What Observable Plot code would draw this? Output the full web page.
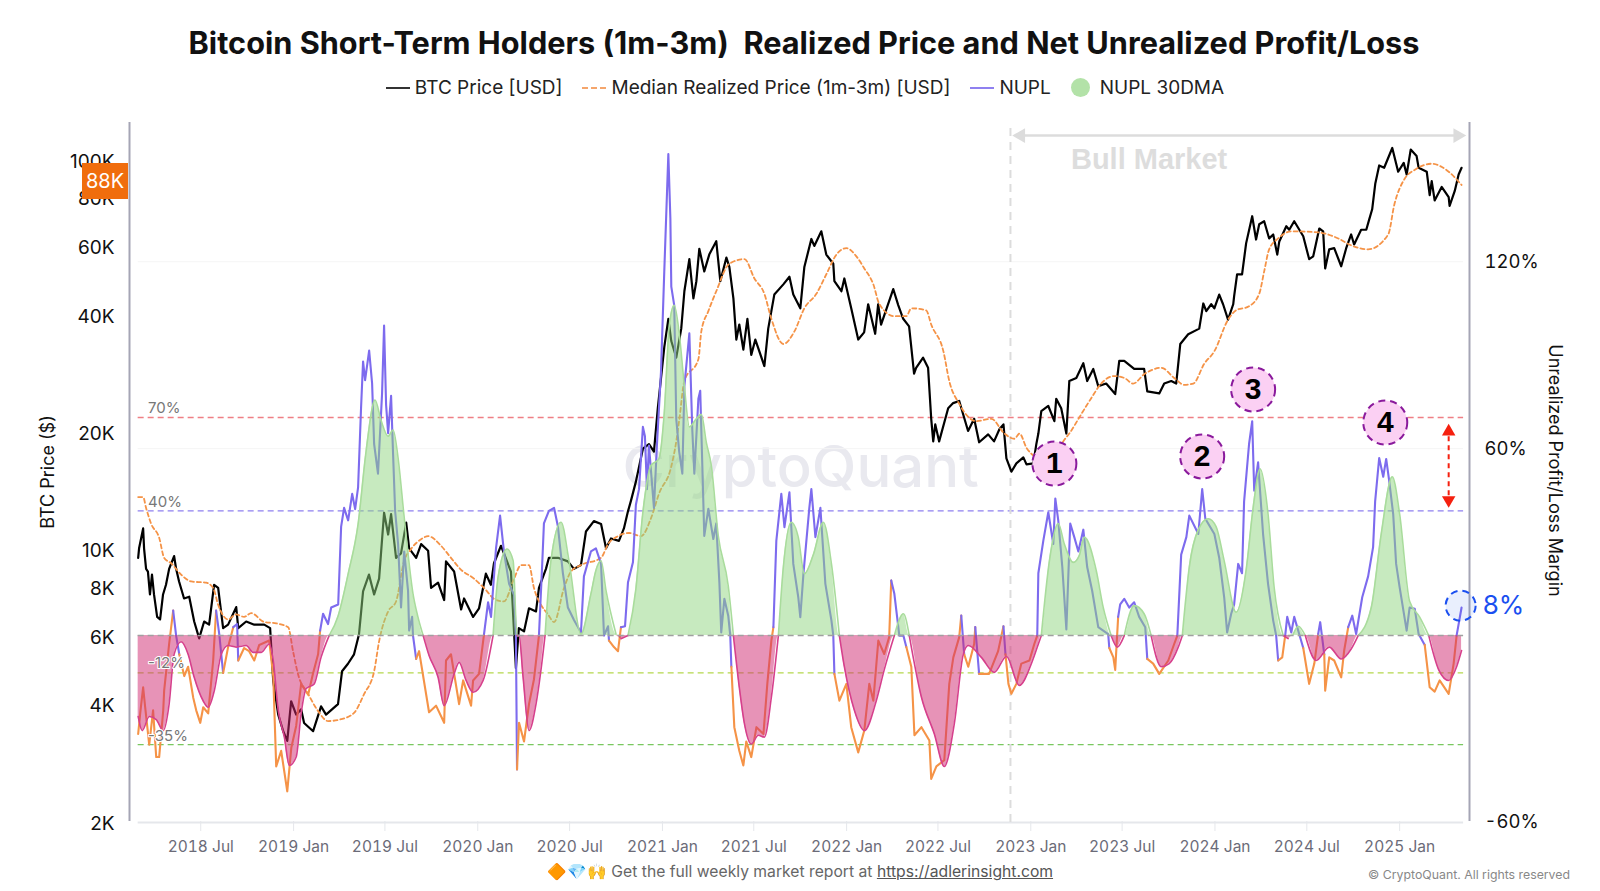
<!DOCTYPE html>
<html>
<head>
<meta charset="utf-8">
<script src="https://cdn.jsdelivr.net/npm/d3@7"></script>
<script src="https://cdn.jsdelivr.net/npm/@observablehq/plot@0.6"></script>
<style>
  html, body { margin: 0; background: #fff; width: 1600px; height: 891px; overflow: hidden; font-family: Inter, sans-serif; }
  #title { position: absolute; top: 24px; left: 0; width: 1608px; text-align: center; font-size: 30.7px; font-weight: 700; color: #111; white-space: pre; }
  #legend { position: absolute; top: 76px; left: 0; width: 1610px; display: flex; justify-content: center; align-items: center; font-size: 19px; color: #222; }
  #legend span.item { display: flex; align-items: center; margin: 0 10px; }
  #legend i { display: inline-block; width: 24px; margin-right: 5px; border-top: 2px solid; }
  #legend i.dot { width: 19px; height: 19px; border: 0; border-radius: 50%; background: #b3e2a8; margin-right: 10px; }
  #chart { position: absolute; top: 112px; left: 0; }
  #tag { position: absolute; left: 82px; top: 163px; width: 46px; height: 36px; line-height: 36px; background: #f06d0d; color: #fff; text-align: center; font-size: 20px; }
  #caption { position: absolute; top: 862px; left: 0; width: 1600px; text-align: center; font-size: 15.7px; color: #666; }
  #caption a { color: #555; }
  #copy { position: absolute; top: 867px; right: 30px; font-size: 12.3px; color: #888; }
</style>
</head>
<body>
<div id="title">Bitcoin Short-Term Holders (1m-3m)  Realized Price and Net Unrealized Profit/Loss</div>
<div id="legend">
  <span class="item"><i style="border-color:#333"></i>BTC Price [USD]</span>
  <span class="item"><i style="border-top:2px dashed #f5a66c"></i>Median Realized Price (1m-3m) [USD]</span>
  <span class="item"><i style="border-color:#8f80f0"></i>NUPL</span>
  <span class="item"><i class="dot"></i>NUPL 30DMA</span>
</div>
<div id="chart"></div>
<div id="tag">88K</div>
<div id="caption">🔶💎🙌 Get the full weekly market report at <a href="https://adlerinsight.com">https://adlerinsight.com</a></div>
<div id="copy">© CryptoQuant. All rights reserved</div>
<script>
// [decimal year, USD thousands]
const btcPrice = [[2018.156,9.5],[2018.161,10.05],[2018.183,11.3],[2018.188,10.05],[2018.199,8.9],[2018.209,8.76],[2018.220,7.65],[2018.231,8.6],[2018.242,7.65],[2018.259,6.7],[2018.275,6.6],[2018.291,7.65],[2018.307,8.1],[2018.324,8.9],[2018.351,9.6],[2018.362,8.9],[2018.378,8.26],[2018.405,7.47],[2018.433,7.55],[2018.460,6.52],[2018.487,5.9],[2018.514,6.52],[2018.541,6.4],[2018.568,8.1],[2018.590,7.95],[2018.617,6.27],[2018.644,6.4],[2018.688,7.1],[2018.699,6.27],[2018.742,6.52],[2018.786,6.4],[2018.840,6.4],[2018.872,6.27],[2018.889,4.58],[2018.916,3.76],[2018.943,3.41],[2018.965,3.22],[2018.986,4.07],[2019.014,3.76],[2019.041,3.88],[2019.057,3.58],[2019.106,3.41],[2019.149,3.95],[2019.176,3.76],[2019.241,4.0],[2019.263,4.86],[2019.295,5.08],[2019.328,5.37],[2019.355,6.05],[2019.377,7.79],[2019.409,8.6],[2019.437,7.65],[2019.464,8.4],[2019.491,12.4],[2019.513,10.9],[2019.529,12.3],[2019.556,9.5],[2019.583,9.75],[2019.611,11.7],[2019.627,10.05],[2019.665,9.5],[2019.692,10.3],[2019.730,9.9],[2019.746,7.95],[2019.784,8.2],[2019.817,7.4],[2019.827,9.3],[2019.871,8.76],[2019.909,7.0],[2019.925,7.47],[2019.974,6.7],[2020.007,7.05],[2020.044,8.65],[2020.071,8.1],[2020.088,9.2],[2020.126,10.2],[2020.142,9.75],[2020.180,8.76],[2020.207,4.95],[2020.223,6.27],[2020.251,6.15],[2020.278,7.05],[2020.316,6.92],[2020.332,7.95],[2020.370,8.9],[2020.386,9.5],[2020.435,9.5],[2020.489,9.3],[2020.522,8.9],[2020.560,9.1],[2020.587,11.1],[2020.630,11.8],[2020.669,11.6],[2020.696,10.05],[2020.723,10.65],[2020.766,10.5],[2020.793,11.3],[2020.815,12.5],[2020.831,13.3],[2020.858,14.9],[2020.896,18.1],[2020.929,18.6],[2020.956,17.8],[2020.977,23],[2021.010,33],[2021.032,39],[2021.048,34.2],[2021.075,31],[2021.102,36.8],[2021.119,45.9],[2021.146,55.5],[2021.168,44],[2021.184,48.7],[2021.200,59],[2021.227,51.6],[2021.254,57],[2021.292,61.7],[2021.314,48.7],[2021.347,56],[2021.363,53],[2021.385,44],[2021.401,34.5],[2021.417,37.7],[2021.439,32.5],[2021.461,39],[2021.482,31.5],[2021.504,34.5],[2021.553,29.5],[2021.574,36.8],[2021.607,45],[2021.656,47.8],[2021.689,50],[2021.710,45],[2021.748,41.5],[2021.770,53],[2021.808,62.5],[2021.824,60],[2021.862,65.4],[2021.889,57],[2021.927,54],[2021.933,48.7],[2021.971,45.9],[2021.987,49.5],[2022.025,41.5],[2022.063,34.5],[2022.095,36],[2022.117,42.5],[2022.155,35.7],[2022.171,42.5],[2022.187,37.7],[2022.253,46.5],[2022.280,42.3],[2022.307,39],[2022.339,37.3],[2022.366,28.2],[2022.377,29.2],[2022.415,31],[2022.442,29.2],[2022.459,21.6],[2022.470,18.9],[2022.481,20.9],[2022.502,18.9],[2022.551,23],[2022.578,23.7],[2022.611,24],[2022.659,20.1],[2022.692,21.6],[2022.719,18.8],[2022.768,19.7],[2022.800,18.9],[2022.829,20.3],[2022.851,20.9],[2022.867,17.1],[2022.894,15.8],[2022.921,16.6],[2022.959,17.2],[2022.976,16.5],[2023.014,16.6],[2023.030,18.6],[2023.041,19.8],[2023.057,22.6],[2023.095,23.3],[2023.128,21.3],[2023.138,24.3],[2023.165,23],[2023.193,19.8],[2023.209,27],[2023.247,27.5],[2023.285,30],[2023.306,27],[2023.339,29],[2023.366,26.2],[2023.409,26.6],[2023.458,25],[2023.480,30.4],[2023.507,30.4],[2023.561,29],[2023.615,29],[2023.632,25.4],[2023.697,25.1],[2023.724,26.6],[2023.762,27],[2023.789,26.6],[2023.811,33.6],[2023.854,35.6],[2023.914,36.8],[2023.936,42.7],[2023.952,40.8],[2023.979,42.5],[2023.996,41.5],[2024.023,45],[2024.044,42.5],[2024.071,38.8],[2024.099,42.5],[2024.104,44.6],[2024.120,50.7],[2024.147,50.7],[2024.169,60.9],[2024.202,71.5],[2024.223,62.3],[2024.240,68.2],[2024.267,69.4],[2024.294,62.7],[2024.316,64.2],[2024.338,57],[2024.349,61.6],[2024.387,67.4],[2024.403,66],[2024.430,69.4],[2024.479,63.5],[2024.511,55.5],[2024.533,56.4],[2024.566,66.5],[2024.587,65.4],[2024.598,52.5],[2024.620,58.8],[2024.647,59.2],[2024.685,53.2],[2024.712,59.2],[2024.739,64.2],[2024.755,60.5],[2024.793,66],[2024.821,66],[2024.837,70.2],[2024.853,74.5],[2024.870,86.8],[2024.891,96.5],[2024.918,95.2],[2024.962,107],[2024.994,93],[2025.022,98],[2025.038,91.5],[2025.060,106],[2025.092,102],[2025.103,95.2],[2025.147,93],[2025.163,81],[2025.174,88],[2025.190,78.5],[2025.228,85],[2025.266,80],[2025.271,76],[2025.299,83],[2025.320,91.5],[2025.336,95.2]];

const realizedPrice = [[2018.156,13.6],[2018.183,13.6],[2018.199,12.75],[2018.227,11.6],[2018.270,10.7],[2018.297,9.5],[2018.335,9.2],[2018.389,8.6],[2018.444,8.26],[2018.525,8.2],[2018.563,7.95],[2018.590,7.2],[2018.644,6.6],[2018.688,6.8],[2018.731,6.7],[2018.769,6.85],[2018.840,6.5],[2018.905,6.45],[2018.970,6.3],[2018.997,5.45],[2019.024,4.78],[2019.079,4.25],[2019.133,3.84],[2019.187,3.62],[2019.258,3.66],[2019.328,3.8],[2019.383,4.25],[2019.437,4.86],[2019.464,5.8],[2019.513,6.92],[2019.556,7.34],[2019.599,9.3],[2019.637,10],[2019.692,10.6],[2019.730,10.8],[2019.800,10.2],[2019.854,9.5],[2019.909,8.85],[2019.979,8.4],[2020.034,7.95],[2020.099,7.4],[2020.142,7.34],[2020.197,8.4],[2020.235,9.1],[2020.278,9.1],[2020.305,7.95],[2020.343,7.2],[2020.381,6.8],[2020.414,6.5],[2020.468,7.95],[2020.506,8.76],[2020.560,9.1],[2020.669,9.5],[2020.707,10.3],[2020.761,10.8],[2020.821,11],[2020.886,10.8],[2020.940,12],[2020.984,13.9],[2021.048,16.3],[2021.075,18.9],[2021.092,21.6],[2021.119,27],[2021.195,30.7],[2021.211,36.2],[2021.249,40.8],[2021.292,45.9],[2021.363,54],[2021.445,55.5],[2021.499,49.5],[2021.553,45.2],[2021.591,39],[2021.656,33.6],[2021.716,36.2],[2021.770,41.5],[2021.835,45.2],[2021.889,50.7],[2021.944,57],[2021.998,59.2],[2022.053,56.4],[2022.096,52.5],[2022.145,47.8],[2022.178,42.5],[2022.259,39.6],[2022.324,39.6],[2022.351,41.5],[2022.432,41],[2022.459,37.7],[2022.525,32.2],[2022.557,27],[2022.611,23.6],[2022.703,21.3],[2022.785,21.6],[2022.856,19.8],[2022.911,19.2],[2022.938,19.8],[2022.976,18.2],[2023.019,17.3],[2023.111,16.5],[2023.176,18.9],[2023.209,19.8],[2023.274,22.2],[2023.328,24.4],[2023.382,26.6],[2023.453,27.8],[2023.507,27.5],[2023.556,26.6],[2023.615,28.1],[2023.708,29.2],[2023.778,27.5],[2023.833,26.4],[2023.882,26.6],[2023.941,29.9],[2023.996,32.2],[2024.071,38.8],[2024.115,41],[2024.185,42],[2024.240,45.2],[2024.267,51.6],[2024.294,58.8],[2024.343,62.7],[2024.414,65.4],[2024.560,65],[2024.669,62.7],[2024.739,60.2],[2024.831,58.8],[2024.940,64.2],[2024.973,76.5],[2025.027,89.2],[2025.081,94],[2025.174,97.5],[2025.266,93],[2025.336,86]];

// [decimal year, percent]
const nupl = [[2018.156,-31.6],[2018.167,-25],[2018.183,-16.6],[2018.194,-23],[2018.216,-35],[2018.237,-24],[2018.254,-39],[2018.270,-39],[2018.292,-24],[2018.297,-17.7],[2018.324,-2.7],[2018.346,8],[2018.362,0],[2018.379,-6],[2018.406,-13],[2018.427,-10],[2018.455,-20],[2018.471,-24],[2018.493,-28],[2018.509,-23],[2018.536,-25],[2018.563,-8],[2018.579,8],[2018.596,0.5],[2018.617,-12],[2018.644,-3.7],[2018.672,2.7],[2018.693,3.7],[2018.699,-8],[2018.731,-4],[2018.758,-5],[2018.786,-8],[2018.813,-3],[2018.867,-1.6],[2018.889,-13],[2018.905,-42],[2018.932,-37],[2018.965,-50],[2018.987,-36],[2019.014,-29],[2019.041,-15.5],[2019.079,-19],[2019.106,-12],[2019.133,-6],[2019.144,1.6],[2019.160,7],[2019.187,3.7],[2019.204,9],[2019.242,10],[2019.258,35],[2019.274,41],[2019.296,37],[2019.318,45.5],[2019.334,40.6],[2019.350,47.6],[2019.366,73],[2019.377,88],[2019.388,82],[2019.410,91.5],[2019.426,81],[2019.437,61.5],[2019.458,52],[2019.480,77.6],[2019.491,99.5],[2019.502,74],[2019.513,65],[2019.529,77],[2019.540,58],[2019.551,40],[2019.567,29.4],[2019.583,9],[2019.600,27],[2019.621,14.4],[2019.627,1.6],[2019.643,6],[2019.648,0],[2019.665,-7.5],[2019.681,-5],[2019.735,-24.6],[2019.773,-22.5],[2019.817,-28],[2019.827,-8],[2019.854,-6],[2019.898,-22],[2019.920,-14.4],[2019.963,-22.5],[2019.974,-14.4],[2020.007,-12.3],[2020.034,0.5],[2020.056,10.7],[2020.072,6],[2020.099,28],[2020.121,38.5],[2020.142,27],[2020.170,16.6],[2020.197,13],[2020.207,0],[2020.213,-43],[2020.224,-28],[2020.251,-34],[2020.278,-22],[2020.305,-14],[2020.332,0],[2020.349,22],[2020.359,36],[2020.386,40],[2020.414,41],[2020.435,35],[2020.462,20],[2020.489,9],[2020.522,5],[2020.560,1],[2020.576,19],[2020.614,27],[2020.641,28],[2020.669,23],[2020.685,0],[2020.707,3],[2020.712,-1.6],[2020.739,-3.7],[2020.761,-5],[2020.777,2.7],[2020.799,3],[2020.815,17],[2020.842,23.5],[2020.858,42],[2020.875,47],[2020.896,67],[2020.907,64],[2020.918,47],[2020.929,61],[2020.956,41],[2020.972,61],[2020.994,84.5],[2021.010,117],[2021.032,154.6],[2021.043,134],[2021.048,112],[2021.064,106],[2021.075,69.5],[2021.091,59],[2021.108,52],[2021.119,80],[2021.146,97],[2021.162,66],[2021.173,52],[2021.195,76],[2021.205,78.6],[2021.227,32],[2021.249,40.7],[2021.276,31],[2021.292,36],[2021.309,17],[2021.319,1],[2021.336,11.8],[2021.357,6.4],[2021.368,0],[2021.374,-10],[2021.390,-29.4],[2021.417,-37],[2021.439,-41.7],[2021.455,-34],[2021.482,-39],[2021.510,-29.4],[2021.548,-31.6],[2021.569,-15.5],[2021.591,-1.6],[2021.602,2.7],[2021.618,30.5],[2021.645,45.5],[2021.662,34.8],[2021.689,46],[2021.710,23],[2021.737,12.3],[2021.748,5.9],[2021.765,19.8],[2021.797,41],[2021.808,47],[2021.830,31.6],[2021.857,41],[2021.884,16.6],[2021.917,4.8],[2021.927,0],[2021.933,-12.3],[2021.960,-20.9],[2021.998,-15.5],[2022.025,-29.4],[2022.063,-37.5],[2022.096,-30.5],[2022.123,-15.5],[2022.145,-20.9],[2022.172,-1.6],[2022.204,-5.9],[2022.231,-0.5],[2022.242,17.7],[2022.259,13.4],[2022.286,0],[2022.308,0],[2022.324,-3.7],[2022.351,-10],[2022.368,-32],[2022.406,-29.4],[2022.449,-33.7],[2022.459,-46],[2022.487,-42],[2022.530,-40],[2022.557,-15.5],[2022.579,-7],[2022.611,-0.5],[2022.622,6.4],[2022.638,-6],[2022.660,-10],[2022.692,-2.7],[2022.698,2.7],[2022.719,-12.3],[2022.773,-12.3],[2022.822,-5],[2022.851,3],[2022.862,-6],[2022.878,-15.5],[2022.894,-18.7],[2022.921,-15.5],[2022.948,-9],[2022.992,-8],[2023.019,-2.7],[2023.035,0],[2023.041,20],[2023.068,30.5],[2023.095,39.6],[2023.122,29.4],[2023.133,44],[2023.149,37],[2023.171,22],[2023.193,2],[2023.214,36],[2023.236,31.6],[2023.258,27],[2023.285,34],[2023.306,22],[2023.333,14.4],[2023.366,2.7],[2023.420,0.5],[2023.426,-4],[2023.448,-7],[2023.458,-11],[2023.474,6],[2023.485,10],[2023.507,11.8],[2023.534,9],[2023.561,10.7],[2023.588,6],[2023.621,2.7],[2023.632,-7.5],[2023.664,-9],[2023.697,-12.3],[2023.746,-8],[2023.778,-2.7],[2023.795,0],[2023.816,26],[2023.844,31.6],[2023.860,38.5],[2023.909,32.6],[2023.930,47],[2023.947,37.5],[2023.996,32.6],[2024.023,25],[2024.050,12.3],[2024.066,1],[2024.088,7],[2024.104,10],[2024.126,23],[2024.147,20],[2024.158,43],[2024.185,61.5],[2024.202,68.8],[2024.213,46.5],[2024.234,55.6],[2024.261,32.6],[2024.288,16.6],[2024.316,4.8],[2024.332,0],[2024.343,-8],[2024.365,-7],[2024.381,0],[2024.392,6],[2024.414,1],[2024.430,6],[2024.457,0.5],[2024.479,-4],[2024.511,-15.5],[2024.539,-9],[2024.560,0.5],[2024.571,4.3],[2024.593,-6],[2024.598,-17.7],[2024.620,-7],[2024.647,-8],[2024.685,-13.4],[2024.701,-4.8],[2024.723,2.7],[2024.745,6.4],[2024.766,0.5],[2024.799,12.3],[2024.831,19],[2024.858,28.4],[2024.869,43],[2024.891,57],[2024.913,51],[2024.929,56.7],[2024.945,49.8],[2024.967,39],[2024.983,23],[2025.000,15.5],[2025.038,1.6],[2025.054,9],[2025.082,8.6],[2025.103,0.5],[2025.136,-3],[2025.163,-16.6],[2025.190,-18],[2025.217,-14.4],[2025.266,-18.7],[2025.293,-9],[2025.309,0],[2025.336,9]];

const nupl30dma = [[2018.156,-26],[2018.178,-30.5],[2018.216,-26],[2018.254,-27],[2018.292,-30.5],[2018.324,-22],[2018.351,-6],[2018.389,-2],[2018.427,-6],[2018.460,-13.4],[2018.509,-21],[2018.536,-23],[2018.569,-17.7],[2018.607,-6],[2018.644,-3.2],[2018.688,-3.7],[2018.742,-3.2],[2018.780,-5.4],[2018.824,-5.4],[2018.867,-2.7],[2018.889,-8],[2018.916,-24],[2018.949,-32.6],[2018.976,-41.7],[2019.014,-39],[2019.041,-25],[2019.068,-17],[2019.112,-15.5],[2019.149,-7],[2019.193,0],[2019.242,6.4],[2019.296,19.8],[2019.350,35.8],[2019.393,59],[2019.442,75.6],[2019.475,69],[2019.513,64],[2019.540,66],[2019.567,57],[2019.600,38],[2019.648,13.4],[2019.675,5.9],[2019.703,0],[2019.735,-6.4],[2019.784,-13.4],[2019.817,-22.5],[2019.871,-12.3],[2019.898,-8.6],[2019.936,-14.4],[2019.974,-18.2],[2020.029,-14.4],[2020.083,0],[2020.110,18.7],[2020.159,27.8],[2020.192,24],[2020.213,0],[2020.224,0],[2020.246,-13.4],[2020.278,-30.5],[2020.316,-22],[2020.343,-11],[2020.365,0],[2020.397,24],[2020.452,36.4],[2020.495,24],[2020.560,0.5],[2020.614,13.4],[2020.641,20.9],[2020.669,24],[2020.696,14.4],[2020.750,0.5],[2020.777,-1],[2020.815,0],[2020.858,15],[2020.896,39.6],[2020.940,54.6],[2020.983,56.7],[2021.010,71.7],[2021.037,99.5],[2021.064,106],[2021.091,97],[2021.119,80],[2021.146,67],[2021.184,69.6],[2021.211,71],[2021.238,62],[2021.265,54.6],[2021.303,32],[2021.357,16],[2021.385,0],[2021.417,-16.6],[2021.444,-28],[2021.482,-34.8],[2021.520,-32],[2021.553,-32.6],[2021.591,-19.8],[2021.629,0],[2021.656,22],[2021.699,36.4],[2021.737,31.6],[2021.770,19.8],[2021.819,26],[2021.873,36.4],[2021.917,23],[2021.960,0],[2021.987,-10],[2022.042,-24],[2022.096,-30.5],[2022.161,-20.9],[2022.204,-11],[2022.259,0],[2022.308,7],[2022.340,0],[2022.406,-19.8],[2022.476,-31.6],[2022.530,-42],[2022.585,-28],[2022.633,-6],[2022.660,-3.2],[2022.731,-7],[2022.801,-11.8],[2022.867,-6.7],[2022.937,-16],[2023.003,-9],[2023.041,-2.7],[2023.057,0],[2023.101,24],[2023.149,36],[2023.182,29.4],[2023.231,23.5],[2023.263,25.7],[2023.290,31.6],[2023.355,20.9],[2023.393,9],[2023.436,0],[2023.469,-3.7],[2023.507,0],[2023.561,9.6],[2023.615,7],[2023.653,0],[2023.708,-10],[2023.751,-9],[2023.800,-3.7],[2023.822,0],[2023.860,22],[2023.909,34],[2023.963,37.5],[2024.006,35],[2024.050,24],[2024.115,7.5],[2024.169,21],[2024.207,41],[2024.245,53.5],[2024.288,39],[2024.321,15.5],[2024.370,0],[2024.397,-1],[2024.425,0.5],[2024.452,3],[2024.490,0],[2024.549,-8],[2024.620,-3.7],[2024.685,-7.5],[2024.739,-4.3],[2024.777,0],[2024.848,9],[2024.902,32.6],[2024.962,51],[2025.000,39],[2025.054,11],[2025.108,6],[2025.158,0],[2025.212,-11],[2025.266,-14.4],[2025.309,-10],[2025.336,-4.8]];

const tickLabels = ["2018 Jul","2019 Jan","2019 Jul","2020 Jan","2020 Jul","2021 Jan","2021 Jul","2022 Jan","2022 Jul","2023 Jan","2023 Jul","2024 Jan","2024 Jul","2025 Jan"];
const priceTicks = [2, 4, 6, 8, 10, 20, 40, 60, 80, 100];
const marginTicks = [-60, 0, 60, 120];
const levels = [
  {pct: 70, label: "70%", labelPct: 72.9, color: "#ef7f85"},
  {pct: 40, label: "40%", labelPct: 42.7, color: "#8f80f0"},
  {pct: -12, label: "-12%", labelPct: -9, color: "#b5d84e"},
  {pct: -35, label: "-35%", labelPct: -32.4, color: "#79c85f"}
];
const callouts = [
  {n: "1", year: 2023.128, pct: 55.2},
  {n: "2", year: 2023.930, pct: 57.5},
  {n: "3", year: 2024.207, pct: 79},
  {n: "4", year: 2024.924, pct: 68.4}
];

// the log axis holds the price, the margin is laid on it so 0% = 6K and -60% = 2K
const marginK = 0.026556;
const toY = pct => 6 * Math.pow(2, pct * marginK);
const fromY = v => Math.round(Math.log2(v / 6) / marginK);
const toDate = y => new Date(Date.UTC(Math.floor(y), 0, 1) + (y % 1) * 365.25 * 864e5);

const lineStart = toDate(2018.156), lineEnd = toDate(2025.347);
const bullStart = toDate(2022.945), bullEnd = toDate(2025.315);
const splitYear = toDate(2022.889);
const arrowYear = toDate(2025.266);
const purple = "#7d6bee", orange = "#f59347", pinkLine = "#d6408c", greenLine = "#a9dc9c";

const rule = (pct, stroke, o = {}) => Plot.ruleY([toY(pct)], {x1: lineStart, x2: lineEnd, stroke, ...o});

const chart = Plot.plot({
  width: 1600,
  height: 746,
  marginTop: 10,
  marginBottom: 37,
  marginLeft: 129,
  marginRight: 131,
  style: {fontFamily: "Inter, sans-serif", background: "transparent"},
  x: {type: "utc", domain: [toDate(2018.109), toDate(2025.379)]},
  y: {type: "log", domain: [2, 124.4]},
  marks: [
    Plot.text(["CryptoQuant"], {x: toDate(2021.75), y: toY(53.5), fontSize: 58, fontWeight: 500, fill: "#e9e9ef"}),
    // faint grid and the level lines
    rule(120, "#f5f5f5"),
    rule(60, "#f5f5f5"),
    rule(-60, "#e5e7eb", {strokeWidth: 2}),
    Plot.ruleX([toDate(2018.109), toDate(2025.379)], {stroke: "#a5a5b5", strokeWidth: 2}),
    levels.map(d => rule(d.pct, d.color, {strokeDasharray: "6,4", strokeWidth: 1.3})),
    Plot.ruleX([splitYear], {y1: toY(-60), y2: toY(163), stroke: "#dcdcdc", strokeWidth: 2, strokeDasharray: "8,6"}),

    // series, the 30DMA fills sit on top of them
    Plot.line(btcPrice, {x: d => toDate(d[0]), y: d => d[1], stroke: "#000", strokeWidth: 2.2}),
    Plot.line(realizedPrice, {x: d => toDate(d[0]), y: d => d[1], stroke: orange, strokeWidth: 1.8, strokeDasharray: "4,3", curve: "monotone-x"}),
    Plot.line(nupl, {x: d => toDate(d[0]), y: d => toY(d[1]), z: null, stroke: d => d[1] >= 0 ? purple : orange, strokeWidth: 2.1}),
    Plot.areaY(nupl30dma, {x: d => toDate(d[0]), y1: toY(0), y2: d => toY(Math.max(0, d[1])), fill: "#8fd67f", fillOpacity: 0.5, curve: "monotone-x"}),
    Plot.areaY(nupl30dma, {x: d => toDate(d[0]), y1: toY(0), y2: d => toY(Math.min(0, d[1])), fill: "#d0286f", fillOpacity: 0.5, curve: "monotone-x"}),
    Plot.line(nupl30dma, {x: d => toDate(d[0]), y: d => d[1] >= 0 ? toY(d[1]) : NaN, stroke: greenLine, strokeWidth: 1.6, curve: "monotone-x"}),
    Plot.line(nupl30dma, {x: d => toDate(d[0]), y: d => d[1] <= 0 ? toY(d[1]) : NaN, stroke: pinkLine, strokeWidth: 1.6, curve: "monotone-x"}),
    rule(0, "#a0a0a0", {strokeDasharray: "6,4", strokeWidth: 1.5}),

    // level labels
    Plot.text(levels, {x: toDate(2018.21), y: d => toY(d.labelPct), text: "label", textAnchor: "start", fontSize: 15, fill: "#777", stroke: "#fff", strokeWidth: 2}),

    // bull market span
    Plot.link([0], {x1: bullStart, x2: bullEnd, y1: toY(160.5), y2: toY(160.5), stroke: "#dcdcdc", strokeWidth: 2.5}),
    Plot.dot([bullStart], {x: d => d, y: toY(160.5), symbol: "triangle", rotate: -90, r: 5.5, fill: "#dcdcdc"}),
    Plot.dot([bullEnd], {x: d => d, y: toY(160.5), symbol: "triangle", rotate: 90, r: 5.5, fill: "#dcdcdc"}),
    Plot.text(["Bull Market"], {x: toDate(2023.642), y: toY(152.8), fontSize: 29, fontWeight: 700, fill: "#dddddd", fontFamily: "Liberation Sans"}),

    // numbered callouts
    Plot.dot(callouts, {x: d => toDate(d.year), y: d => toY(d.pct), r: 22, fill: "#fbd0f3", stroke: "#8a1a9c", strokeWidth: 2, strokeDasharray: "7,5"}),
    Plot.text(callouts, {x: d => toDate(d.year), y: d => toY(d.pct), text: "n", fontSize: 30, fontWeight: 700, fill: "#000", fontFamily: "Liberation Sans"}),

    // red range arrow and the 8% marker
    Plot.link([0], {x1: arrowYear, x2: arrowYear, y1: toY(64), y2: toY(45), stroke: "#f5200f", strokeWidth: 2, strokeDasharray: "5,4"}),
    Plot.dot([arrowYear], {x: d => d, y: toY(65.5), symbol: "triangle", r: 5, fill: "#f5200f"}),
    Plot.dot([arrowYear], {x: d => d, y: toY(43.5), symbol: "triangle", rotate: 180, r: 5, fill: "#f5200f"}),
    Plot.dot([toDate(2025.331)], {x: d => d, y: toY(9.6), r: 15, fill: "#2a66e8", fillOpacity: 0.1, stroke: "#1a4ff0", strokeWidth: 2, strokeDasharray: "7,5"}),
    Plot.text(["8%"], {x: toDate(2025.331), y: toY(9.6), dx: 22, textAnchor: "start", fontSize: 26, fill: "#1a4ff0"}),

    // axes
    Plot.axisX({ticks: tickLabels.map(d3.utcParse("%Y %b")), tickFormat: d3.utcFormat("%Y %b"), tickSize: 10, tickPadding: 9, stroke: "#e5e7eb", color: "#6b6b78", fontSize: 15.5, label: null}),
    // text mark: the log scale's tick format would drop 6K, 8K, 60K, 80K
    Plot.text(priceTicks, {y: d => d, frameAnchor: "left", dx: -15, dy: 2, textAnchor: "end", text: d => d + "K", fontSize: 19, fill: "#111"}),
    Plot.axisY({anchor: "right", ticks: marginTicks.map(toY), tickFormat: d => fromY(d) + "%", tickSize: 0, tickPadding: 15, fontSize: 18.5, color: "#111", label: null}),
    Plot.text(["BTC Price ($)"], {frameAnchor: "left", y: toY(52.5), dx: -81, rotate: -90, textAnchor: "middle", fontSize: 18, fill: "#111"}),
    Plot.text(["Unrealized Profit/Loss Margin"], {frameAnchor: "right", y: toY(53), dx: 85, rotate: 90, textAnchor: "middle", fontSize: 18, fill: "#111"})
  ]
});

document.querySelector("#chart").append(chart);
</script>
</body>
</html>
